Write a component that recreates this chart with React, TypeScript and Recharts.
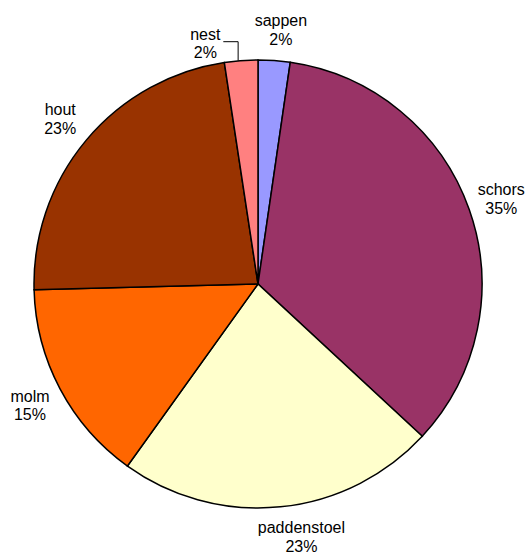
import React from 'react';
import { PieChart, Pie, Cell } from 'recharts';

const categories = ['sappen', 'schors', 'paddenstoel', 'molm', 'hout', 'nest'];
const values = [2.3, 34.6, 23.0, 14.7, 23.0, 2.4];
const colors = ['#9999FF', '#993366', '#FFFFCC', '#FF6600', '#993300', '#FF8080'];
// label placement tweaks (angle shift in degrees, radius) for crowded slices
const labelShift = [-1, 0, 4, 0, 0, 8];
const labelRadius = [256, 258, 256, 258, 258, 247];

const data = categories.map((name, i) => ({ name, value: values[i] }));
const total = values.reduce((a, b) => a + b, 0);

const RAD = Math.PI / 180;
const FONT = '"Liberation Sans", Arial, sans-serif';

const renderLabel = (props: any) => {
  const { cx, cy, midAngle, outerRadius, index } = props;
  const ang = midAngle + labelShift[index];
  const r = labelRadius[index];
  const x = cx + r * Math.cos(-ang * RAD);
  const y = cy + r * Math.sin(-ang * RAD);
  const pct = Math.round((values[index] / total) * 100);
  const b1 = y - 3;
  let leader = null;
  if (index === 5) {
    const ex = cx + outerRadius * Math.cos(-midAngle * RAD);
    const ey = cy + outerRadius * Math.sin(-midAngle * RAD);
    const ly = y - 1;
    leader = (
      <polyline
        points={`${x + 18},${ly} ${ex - 3},${ly} ${ex - 3},${ey}`}
        fill="none"
        stroke="#000"
        strokeWidth={1}
      />
    );
  }
  return (
    <g key={`lbl-${index}`}>
      {leader}
      <text x={x} y={b1} textAnchor="middle" fontFamily={FONT} fontSize={16} fill="#000">
        <tspan x={x} y={b1}>{categories[index]}</tspan>
        <tspan x={x} y={b1 + 18.5}>{pct}%</tspan>
      </text>
    </g>
  );
};

export default function App() {
  return (
    <div style={{ width: 528, height: 556, background: '#fff' }}>
      <style>{`html,body{margin:0;padding:0;overflow:hidden;background:#fff}`}</style>
      <PieChart
        width={528}
        height={556}
        margin={{ top: 0, right: 0, bottom: 0, left: 0 }}
        style={{ overflow: 'visible' }}
      >
        <Pie
          data={data}
          dataKey="value"
          nameKey="name"
          cx={258}
          cy={284}
          outerRadius={224}
          startAngle={90}
          endAngle={-270}
          stroke="#000"
          strokeWidth={1.5}
          label={renderLabel}
          labelLine={false}
          isAnimationActive={false}
        >
          {data.map((d, i) => (
            <Cell key={d.name} fill={colors[i]} />
          ))}
        </Pie>
      </PieChart>
    </div>
  );
}
